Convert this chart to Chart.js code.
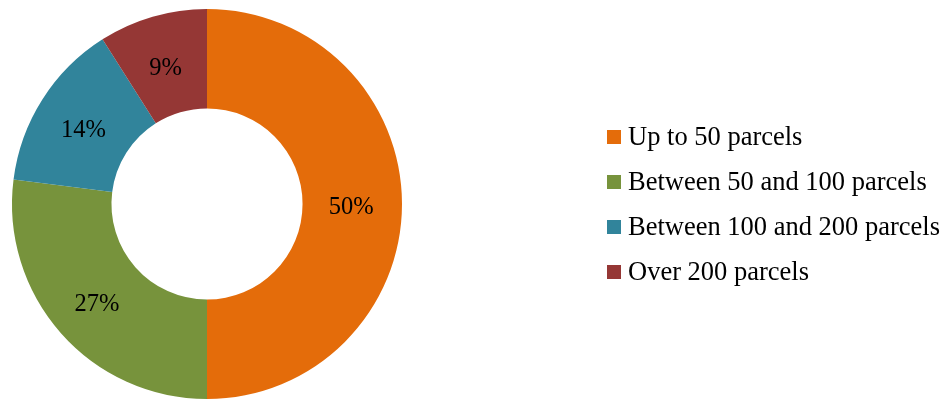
<!DOCTYPE html>
<html lang="en">
<head>
    <meta charset="UTF-8">
    <title>Parcels</title>
    <style>
        html, body { margin: 0; padding: 0; background: #ffffff; }
        #wrap { position: relative; width: 944px; height: 399px; }
        #chart { display: block; }
    </style>
</head>
<body>
    <div id="wrap">
        <canvas id="chart" width="944" height="399"></canvas>
    </div>
    <script src="https://cdn.jsdelivr.net/npm/chart.js"></script>
    <script>
        const categories = ['Up to 50 parcels', 'Between 50 and 100 parcels', 'Between 100 and 200 parcels', 'Over 200 parcels'];
        const shares = [50, 27, 14, 9];
        const sliceColors = ['#E46C0A', '#77933C', '#31849B', '#953735'];
        const fontFamily = '"Liberation Serif", "Times New Roman", serif';

        // 百分比標籤，畫在每個扇區中間
        const sliceLabels = {
            id: 'sliceLabels',
            afterDatasetsDraw(chart) {
                const ctx = chart.ctx;
                const meta = chart.getDatasetMeta(0);
                ctx.save();
                ctx.font = '24.5px ' + fontFamily;
                ctx.fillStyle = '#000000';
                ctx.textAlign = 'center';
                ctx.textBaseline = 'middle';
                meta.data.forEach((arc, i) => {
                    const p = arc.tooltipPosition();
                    ctx.fillText(shares[i] + '%', p.x - 1, p.y + 4);
                });
                ctx.restore();
            }
        };

        // 右側圖例
        const sideLegend = {
            id: 'sideLegend',
            afterDraw(chart) {
                const ctx = chart.ctx;
                const x0 = 607, y0 = 137, step = 45, box = 14;
                ctx.save();
                ctx.font = '26.5px ' + fontFamily;
                ctx.textBaseline = 'middle';
                ctx.textAlign = 'left';
                chart.data.labels.forEach((label, i) => {
                    const y = y0 + i * step;
                    ctx.fillStyle = chart.data.datasets[0].backgroundColor[i];
                    ctx.fillRect(x0, y - box / 2, box, box);
                    ctx.fillStyle = '#000000';
                    ctx.fillText(label, x0 + box + 7, y + 1);
                });
                ctx.restore();
            }
        };

        new Chart(document.getElementById('chart').getContext('2d'), {
            type: 'doughnut',
            data: {
                labels: categories,
                datasets: [{
                    data: shares,
                    backgroundColor: sliceColors,
                    borderWidth: 0
                }]
            },
            options: {
                responsive: false,
                animation: false,
                cutout: '49%',
                layout: { padding: { left: 12, top: 9, bottom: 0, right: 542 } },
                plugins: {
                    legend: { display: false },
                    tooltip: { enabled: false }
                }
            },
            plugins: [sliceLabels, sideLegend]
        });
    </script>
</body>
</html>
